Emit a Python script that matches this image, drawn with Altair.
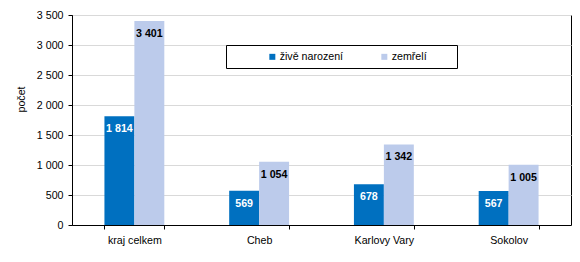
import altair as alt
import pandas as pd

regions = ["kraj celkem", "Cheb", "Karlovy Vary", "Sokolov"]
series = ["živě narození", "zemřelí"]
born = [1814, 569, 678, 567]
died = [3401, 1054, 1342, 1005]

rows = []
for r, b, d in zip(regions, born, died):
    rows.append({"region": r, "series": series[0], "value": b})
    rows.append({"region": r, "series": series[1], "value": d})
df = pd.DataFrame(rows)

FONT = "Liberation Sans"
FS = 10.67

x = alt.X(
    "region:N",
    sort=regions,
    scale=alt.Scale(paddingInner=0.52, paddingOuter=0.26),
    axis=alt.Axis(
        title=None, labelAngle=0, tickBand="extent", ticks=True, tickSize=4,
        tickColor="black", domainColor="black", labelColor="black",
        labelFontSize=FS, labelFont=FONT, labelPadding=6, grid=False,
    ),
)
xo = alt.XOffset("series:N", sort=series, scale=alt.Scale(domain=series, paddingInner=0, paddingOuter=0))
y = alt.Y(
    "value:Q",
    scale=alt.Scale(domain=[0, 3500], nice=False),
    axis=alt.Axis(
        title="počet", values=list(range(0, 3501, 500)), format=",d",
        grid=True, gridColor="#d9d9d9", domainColor="black", tickColor="black",
        tickSize=4, labelFontSize=FS, labelFont=FONT, labelColor="black",
        labelPadding=5, titleFont=FONT, titleFontSize=FS, titleFontWeight="normal",
        titleColor="black", titleX=-46, titleY=99 - 15,
    ),
)

bars = alt.Chart(df).mark_bar().encode(
    x=x,
    xOffset=xo,
    y=y,
    color=alt.Color(
        "series:N", sort=series,
        scale=alt.Scale(domain=series, range=["#0070c0", "#bccbeb"]),
        legend=alt.Legend(
            title="\u00a0", titleOrient="right", titlePadding=24, titleFontSize=FS,
            orient="none", legendX=154, legendY=30,
            direction="horizontal", symbolType="square", symbolSize=36,
            symbolStrokeWidth=0, strokeColor="black", fillColor="white",
            padding=6, labelFontSize=FS, labelFont=FONT, labelColor="black",
            symbolOffset=35, columnPadding=0, labelOffset=2, gridAlign="all",
        ),
    ),
)

labels = alt.Chart(df).mark_text(
    baseline="middle", dy=13, fontWeight="bold", fontSize=FS, font=FONT
).encode(
    x=x,
    xOffset=xo,
    y=y,
    text=alt.Text("value:Q", format=",d"),
    color=alt.condition(alt.datum.series == series[0], alt.value("white"), alt.value("black")),
)

chart = (
    alt.layer(bars, labels)
    .properties(
        width=499, height=210,
        autosize=alt.AutoSizeParams(type="none"),
        padding={"left": 72, "top": 15, "right": 9, "bottom": 37},
    )
    .configure(locale={"number": {"decimal": ",", "thousands": " ", "grouping": [3], "currency": ["", ""]}})
    .configure_view(stroke="black", strokeWidth=1)
    .configure_axis(domainWidth=1)
)

chart.save("out.html", embed_options={"renderer": "svg", "actions": False})
